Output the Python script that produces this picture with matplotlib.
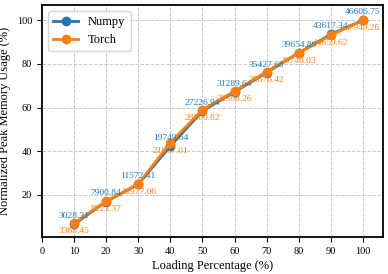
import numpy as np
import matplotlib.pyplot as plt

plt.rcParams['font.family'] = ['Liberation Serif', 'DejaVu Serif']

# 데이터
loading = [10, 20, 30, 40, 50, 60, 70, 80, 90, 100]
numpy_mem = [3028.31, 7900.84, 11572.41, 19749.64, 27226.94,
             31289.64, 35427.68, 39654.89, 43617.34, 46606.75]
torch_mem = [3388.45, 8223.37, 11977.06, 21037.01, 28300.82,
             32368.26, 36676.42, 40748.03, 44659.62, 47949.26]

numpy_norm = np.array(numpy_mem) / max(numpy_mem) * 100
torch_norm = np.array(torch_mem) / max(torch_mem) * 100

fig = plt.figure(figsize=(3.88, 2.74), dpi=100)
ax = fig.add_axes([0.108, 0.135, 0.879, 0.847])

ax.plot(loading, numpy_norm, marker='o', color='#1f77b4', lw=2, ms=6, label='Numpy')
ax.plot(loading, torch_norm, marker='o', color='#ff7f0e', lw=2, ms=6, label='Torch')

# 값 표시
for x, y, v in zip(loading, numpy_norm, numpy_mem):
    ax.annotate(f'{v:.2f}', (x, y), xytext=(0, 5.8), textcoords='offset points',
                ha='center', va='center', fontsize=6.8, color='#1f77b4')
for x, y, v in zip(loading, torch_norm, torch_mem):
    ax.annotate(f'{v:.2f}', (x, y), xytext=(0, -5.8), textcoords='offset points',
                ha='center', va='center', fontsize=6.8, color='#ff7f0e')

ax.set_xlim(0, 106.2)
ax.set_ylim(0.7, 107)
ax.set_xticks(range(0, 101, 10))
ax.set_yticks([20, 40, 60, 80, 100])
ax.tick_params(labelsize=7.5)
ax.grid(True, linestyle='--', color='#c8c8c8', lw=0.7)
for s in ax.spines.values():
    s.set_linewidth(1.3)

ax.set_xlabel('Loading Percentage (%)', fontsize=9, labelpad=3)
ax.set_ylabel('Normalized Peak Memory Usage (%)', fontsize=9, labelpad=4)
ax.legend(loc='upper left', fontsize=9)

plt.savefig('out.png', dpi=100)
